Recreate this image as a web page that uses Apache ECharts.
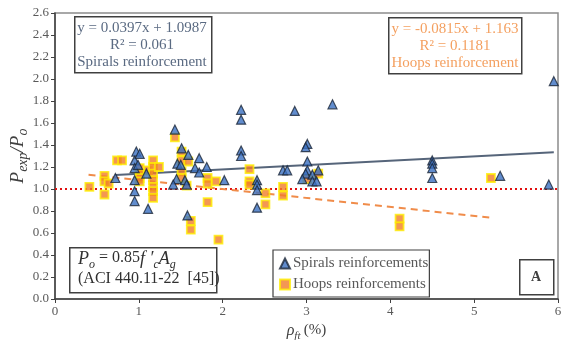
<!DOCTYPE html>
<html>
<head>
<meta charset="utf-8">
<script src="https://cdn.jsdelivr.net/npm/echarts@6/dist/echarts.min.js"></script>
<style>
  html, body { margin: 0; padding: 0; background: #fff; }
  #main { width: 561px; height: 340px; }
</style>
</head>
<body>
<div id="main"></div>
<script>
// 数据
var spirals = [
  [0.72, 1.10], [0.95, 1.26], [0.97, 1.34], [1.01, 1.32], [0.95, 1.19], [0.95, 1.08],
  [0.95, 0.98], [0.95, 0.89], [1.11, 0.82], [1.09, 1.14], [0.99, 1.22],
  [1.43, 1.54], [1.51, 1.37], [1.59, 1.31], [1.72, 1.28], [1.46, 1.23], [1.50, 1.22],
  [1.67, 1.19], [1.72, 1.15], [1.81, 1.20], [1.45, 1.09], [1.41, 1.04], [1.55, 1.08],
  [1.57, 1.04], [1.58, 0.76], [2.02, 1.08],
  [2.22, 1.72], [2.22, 1.63], [2.22, 1.35], [2.22, 1.30],
  [2.41, 1.08], [2.41, 1.04], [2.41, 0.99], [2.41, 0.83],
  [2.72, 1.17], [2.77, 1.17], [2.86, 1.71], [3.31, 1.77],
  [3.01, 1.41], [2.99, 1.38], [3.01, 1.25], [3.01, 1.17], [2.99, 1.14], [3.14, 1.17],
  [2.95, 1.09], [3.07, 1.13], [3.07, 1.07], [3.12, 1.07],
  [4.50, 1.26], [4.50, 1.23], [4.50, 1.19], [4.50, 1.10],
  [5.31, 1.12], [5.89, 1.04], [5.95, 1.98]
];
var hoops = [
  [0.41, 1.02], [0.59, 1.12], [0.59, 1.07], [0.64, 1.05], [0.59, 0.95],
  [0.74, 1.26], [0.80, 1.26],
  [1.01, 1.19], [1.01, 1.14], [1.01, 1.10], [1.01, 1.07], [1.11, 1.17],
  [1.17, 1.26], [1.17, 1.20], [1.17, 1.14], [1.17, 1.08], [1.17, 1.02], [1.17, 0.98],
  [1.17, 0.92], [1.24, 1.20],
  [1.43, 1.47], [1.51, 1.34], [1.51, 1.26], [1.59, 1.25], [1.51, 1.16], [1.51, 1.10],
  [1.57, 1.03], [1.82, 1.10], [1.82, 1.05], [1.92, 1.07], [1.82, 0.88],
  [1.62, 0.71], [1.62, 0.63], [1.95, 0.54],
  [2.32, 1.18], [2.32, 1.07], [2.32, 1.04], [2.51, 0.96], [2.51, 0.86],
  [2.72, 1.02], [2.72, 0.94], [3.01, 1.09], [3.14, 1.14],
  [4.11, 0.73], [4.11, 0.66], [5.20, 1.10]
];
// 趋势线 y = a*x + b
var spiralFit = { a: 0.0397, b: 1.0987, from: 0.72, to: 5.95 };
var hoopFit = { a: -0.0815, b: 1.163, from: 0.40, to: 5.18 };
var refLine = [[0, 1.0], [6, 1.0]];

var serif = '"Liberation Serif", "DejaVu Serif", serif';

function fitLine(f) {
  return [[f.from, f.a * f.from + f.b], [f.to, f.a * f.to + f.b]];
}

var myChart = echarts.init(document.getElementById('main'));
var option = {
  animation: false,
  grid: {
    left: 55, right: 3, top: 13, bottom: 41,
    outerBoundsMode: 'none',
    show: true, borderColor: '#8c8c8c', borderWidth: 1.5
  },
  legend: {
    orient: 'vertical',
    left: 273, top: 250,
    width: 150,
    padding: [6, 1, 5, 6],
    itemGap: 6,
    itemWidth: 10, itemHeight: 10,
    borderColor: '#404040', borderWidth: 1.2,
    backgroundColor: '#fff',
    data: ['Spirals reinforcements', 'Hoops reinforcements'],
    textStyle: { fontFamily: serif, fontSize: 15, color: '#595959', padding: [0, 0, 0, -2] }
  },
  xAxis: {
    type: 'value', min: 0, max: 6, interval: 1,
    splitLine: { show: false },
    axisLine: { lineStyle: { color: '#404040', width: 1.5 } },
    axisTick: { length: 4, lineStyle: { color: '#404040' } },
    axisLabel: { fontFamily: serif, fontSize: 13, color: '#595959', margin: 6 },
    name: '{i|ρ}{s|ft} {n|(%)}',
    nameLocation: 'middle',
    nameGap: 15,
    nameTextStyle: {
      rich: {
        i: { fontFamily: serif, fontStyle: 'italic', fontSize: 16, color: '#404040', lineHeight: 19, verticalAlign: 'top' },
        s: { fontFamily: serif, fontStyle: 'italic', fontSize: 11, color: '#404040', lineHeight: 19, verticalAlign: 'bottom' },
        n: { fontFamily: serif, fontSize: 15, color: '#404040', lineHeight: 19, verticalAlign: 'top' }
      }
    }
  },
  yAxis: {
    type: 'value', min: 0, max: 2.6, interval: 0.2,
    splitLine: { show: false },
    axisLine: { show: true, lineStyle: { color: '#404040', width: 1.5 } },
    axisTick: { show: true, length: 4, lineStyle: { color: '#404040' } },
    axisLabel: {
      fontFamily: serif, fontSize: 13, color: '#595959', margin: 6,
      formatter: function (v) { return v.toFixed(1); }
    },
    name: '{i|P}{s|exp}{i|/P}{s|o}',
    nameLocation: 'middle',
    nameGap: 25,
    nameMoveOverlap: false,
    nameRotate: 90,
    nameTextStyle: {
      rich: {
        i: { fontFamily: serif, fontStyle: 'italic', fontSize: 19, color: '#404040', lineHeight: 22, verticalAlign: 'top' },
        s: { fontFamily: serif, fontStyle: 'italic', fontSize: 14, color: '#404040', lineHeight: 22, verticalAlign: 'bottom' }
      }
    }
  },
  series: [
    {
      name: 'ref', type: 'line', data: refLine, symbol: 'none', silent: true,
      lineStyle: { color: '#e01010', width: 2.2, type: [2, 3] }, z: 2
    },
    {
      name: 'spiralFit', type: 'line', data: fitLine(spiralFit), symbol: 'none', silent: true,
      lineStyle: { color: '#56657a', width: 2 }, z: 3
    },
    {
      name: 'hoopFit', type: 'line', data: fitLine(hoopFit), symbol: 'none', silent: true,
      lineStyle: { color: '#f08c4a', width: 2, type: [7, 5] }, z: 3
    },
    {
      name: 'Hoops reinforcements', type: 'scatter', data: hoops,
      symbol: 'rect', symbolSize: 8,
      itemStyle: { color: '#f07d28', borderColor: '#ffee00', borderWidth: 1.8 }, z: 4
    },
    {
      name: 'Spirals reinforcements', type: 'scatter', data: spirals,
      symbol: 'triangle', symbolSize: 9,
      itemStyle: { color: '#3a6fc0', borderColor: '#1c2738', borderWidth: 1.2 }, z: 5
    }
  ],
  graphic: [
    // 左上文本框
    { type: 'rect', left: 74, top: 16, shape: { width: 137, height: 56 },
      style: { fill: '#fff', stroke: '#404040', lineWidth: 1.5 }, z: 10 },
    { type: 'text', x: 142, y: 20, z: 11,
      style: { text: 'y = 0.0397x + 1.0987\nR² = 0.061\nSpirals reinforcement',
        align: 'center', verticalAlign: 'top', font: '15px ' + serif, fill: '#5a6a82', lineHeight: 17 } },
    // 右上文本框
    { type: 'rect', left: 388, top: 17, shape: { width: 133, height: 56 },
      style: { fill: '#fff', stroke: '#404040', lineWidth: 1.5 }, z: 10 },
    { type: 'text', x: 455, y: 21, z: 11,
      style: { text: 'y = -0.0815x + 1.163\nR² = 0.1181\nHoops reinforcement',
        align: 'center', verticalAlign: 'top', font: '15px ' + serif, fill: '#f4a060', lineHeight: 17 } },
    // 公式框
    { type: 'rect', left: 69, top: 247, shape: { width: 147, height: 45 },
      style: { fill: '#fff', stroke: '#404040', lineWidth: 1.5 }, z: 10 },
    { type: 'text', x: 78, y: 250, z: 11,
      style: {
        text: '{i|P}{s|o}{n| = 0.85}{i|f ′}{s|c}{i|A}{s|g}\n{n|(ACI 440.11-22  [45])}',
        rich: {
          i: { fontFamily: serif, fontStyle: 'italic', fontSize: 18, fill: '#303030', lineHeight: 21, verticalAlign: 'top' },
          s: { fontFamily: serif, fontStyle: 'italic', fontSize: 12, fill: '#303030', lineHeight: 21, verticalAlign: 'bottom' },
          n: { fontFamily: serif, fontSize: 16, fill: '#303030', lineHeight: 20, verticalAlign: 'top' }
        }
      } },
    // A 框
    { type: 'rect', left: 519, top: 259, shape: { width: 34, height: 35 },
      style: { fill: '#fff', stroke: '#404040', lineWidth: 1.5 }, z: 10 },
    { type: 'text', x: 536, y: 277, z: 11,
      style: { text: 'A', align: 'center', verticalAlign: 'middle', font: 'bold 14px ' + serif, fill: '#404040' } }
  ]
};
myChart.setOption(option);
</script>
</body>
</html>
